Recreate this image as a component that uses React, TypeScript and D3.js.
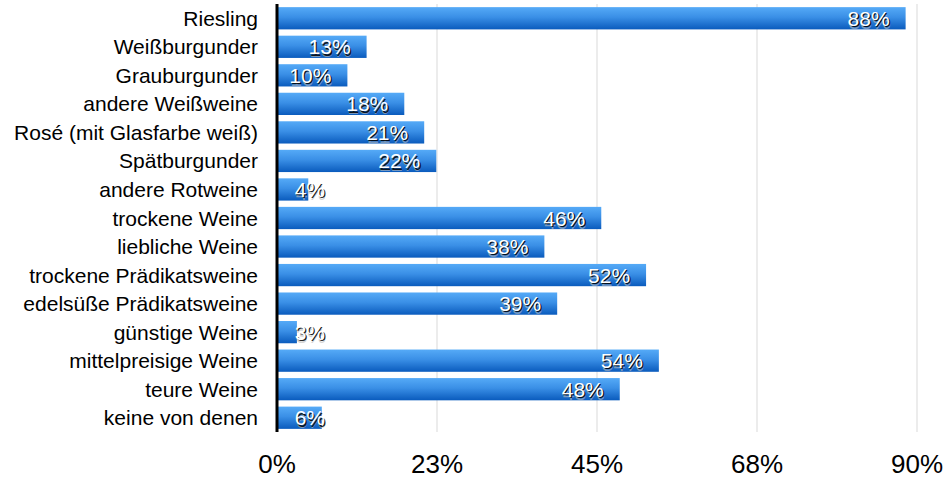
import React from "react";
import * as d3 from "d3";

const categories = [
  "Riesling",
  "Weißburgunder",
  "Grauburgunder",
  "andere Weißweine",
  "Rosé (mit Glasfarbe weiß)",
  "Spätburgunder",
  "andere Rotweine",
  "trockene Weine",
  "liebliche Weine",
  "trockene Prädikatsweine",
  "edelsüße Prädikatsweine",
  "günstige Weine",
  "mittelpreisige Weine",
  "teure Weine",
  "keine von denen",
];
const values = [88.4, 12.6, 9.9, 17.9, 20.7, 22.4, 4.4, 45.6, 37.6, 51.9, 39.4, 2.8, 53.7, 48.2, 6.3];
const tickValues = [0, 22.5, 45, 67.5, 90];
const tickLabels = ["0%", "23%", "45%", "68%", "90%"];

const W = 946;
const H = 480;
const left = 277;
const right = 917;
const top = 4;
const bottom = 432;
const font = "'Liberation Sans', Arial, sans-serif";

export default function App() {
  const x = d3.scaleLinear().domain([0, 90]).range([left, right]);
  const y = d3.scaleBand<string>().domain(categories).range([top, bottom]).paddingInner(0.22).paddingOuter(0.11);
  const bw = y.bandwidth();
  return (
    <div style={{ position: "fixed", left: 0, top: 0 }}>
      <svg width={W} height={H} style={{ display: "block", background: "#fff" }}>
        <defs>
          <linearGradient id="barGrad" x1="0" y1="0" x2="0" y2="1">
            <stop offset="0" stopColor="#55aaf7" />
            <stop offset="0.45" stopColor="#3a8fe6" />
            <stop offset="1" stopColor="#0a5bbd" />
          </linearGradient>
        </defs>
        {tickValues.slice(1).map((t) => (
          <line key={t} x1={x(t)} x2={x(t)} y1={top} y2={bottom} stroke="#d9d9d9" strokeWidth={1} />
        ))}
        {categories.map((c, i) => {
          const yy = y(c)!;
          const end = x(values[i]);
          const lx = Math.max(end - 16, 325);
          const ty = yy + bw / 2 + 7.5;
          const label = `${Math.round(values[i])}%`;
          return (
            <g key={c}>
              <rect x={left} y={yy} width={end - left} height={bw} fill="url(#barGrad)" />
              <text x={258} y={ty} textAnchor="end" fontFamily={font} fontSize={21} fill="#000">
                {c}
              </text>
              <text x={lx + 1} y={ty + 3} textAnchor="end" fontFamily={font} fontSize={21} fill="#bbb" opacity={0.6}>
                {label}
              </text>
              <text x={lx + 1.3} y={ty + 1.3} textAnchor="end" fontFamily={font} fontSize={21} fill="#000" opacity={0.85}>
                {label}
              </text>
              <text x={lx} y={ty} textAnchor="end" fontFamily={font} fontSize={21} fill="#fff">
                {label}
              </text>
            </g>
          );
        })}
        <line x1={left} x2={left} y1={top} y2={bottom} stroke="#000" strokeWidth={3} />
        {tickValues.map((t, i) => (
          <text key={t} x={x(t)} y={473} textAnchor="middle" fontFamily={font} fontSize={26} fill="#000">
            {tickLabels[i]}
          </text>
        ))}
      </svg>
    </div>
  );
}
